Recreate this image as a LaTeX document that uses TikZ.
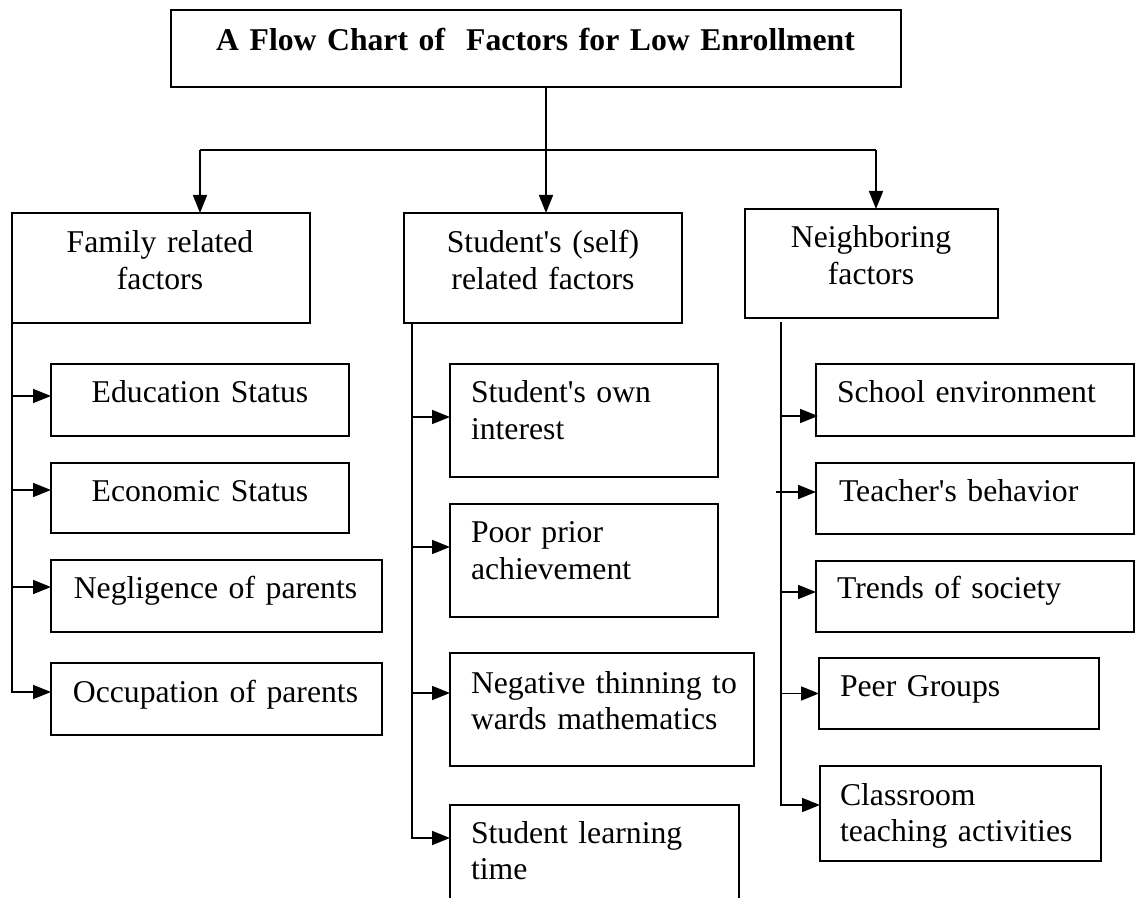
\documentclass[tikz,border=0pt]{standalone}
\usepackage{fontspec}
\setmainfont{Liberation Serif}[Ligatures=TeXOff]
\usetikzlibrary{arrows.meta}
\tikzset{
  box/.style={draw, line width=0.8pt, inner sep=0pt, outer sep=0pt},
  conn/.style={line width=0.8pt},
  arr/.style={conn, -{Triangle[length=9pt,width=7pt]}},
  basefont/.style={font=\fontsize{15.85pt}{18.2pt}\selectfont},
  ltxt/.style={basefont, inner sep=0pt, outer sep=0pt, anchor=base west, text width=8cm, align=left},
  ctxt/.style={basefont, inner sep=0pt, outer sep=0pt, anchor=base, text width=14cm, align=center},
}
\newcommand\bx[5]{\node[box, anchor=north west, minimum width={(#4-#2)*0.5pt}, minimum height={(#5-#3)*0.5pt}] (#1) at (#2,#3) {};}
\begin{document}
\begin{tikzpicture}[x=0.5pt, y=-0.5pt]
\useasboundingbox (0,0) rectangle (1136,898);
% boxes
\bx{title}{171}{10}{901}{87}
\bx{fam}{12}{213}{310}{323}
\bx{stu}{404}{213}{682}{323}
\bx{nei}{745}{209}{998}{318}
\bx{f1}{51}{364}{349}{436}
\bx{f2}{51}{463}{349}{533}
\bx{f3}{51}{560}{382}{632}
\bx{f4}{51}{663}{382}{735}
\bx{s1}{450}{364}{718}{477}
\bx{s2}{450}{504}{718}{617}
\bx{s3}{450}{653}{754}{766}
\bx{s4}{450}{805}{739}{912}
\bx{n1}{816}{364}{1134}{436}
\bx{n2}{816}{463}{1134}{534}
\bx{n3}{816}{561}{1134}{632}
\bx{n4}{819}{658}{1099}{729}
\bx{n5}{820}{766}{1101}{861}
% texts
\node[ctxt, font=\fontsize{15.85pt}{18.2pt}\selectfont\bfseries] (tt) at (535.5,51) {A Flow Chart of\ \ Factors for Low Enrollment};
\node[ctxt] (tfam) at (160,253) {Family related\\factors};
\node[ctxt] (tstu) at (543,253) {Student's (self)\\related factors};
\node[ctxt] (tnei) at (871,248) {Neighboring\\factors};
\node[ctxt] (tf1) at (200,403) {Education Status};
\node[ctxt] (tf2) at (200,502) {Economic Status};
\node[ctxt] (tf3) at (215.5,599) {Negligence of parents};
\node[ctxt] (tf4) at (215.5,703) {Occupation of parents};
\node[ltxt] (ts1) at (471,403) {Student's own\\interest};
\node[ltxt] (ts2) at (471,543) {Poor prior\\achievement};
\node[ltxt] (ts3) at (471,693) {Negative thinning to\\wards mathematics};
\node[ltxt] (ts4) at (471,843) {Student learning\\time};
\node[ltxt] (tn1) at (837,403) {School environment};
\node[ltxt] (tn2) at (839,502) {Teacher's behavior};
\node[ltxt] (tn3) at (837,599) {Trends of society};
\node[ltxt] (tn4) at (840,697) {Peer Groups};
\node[ltxt] (tn5) at (840,805) {Classroom\\teaching activities};
% top connectors
\coordinate (hub) at (546,150);
\coordinate (hl) at (200,150);
\coordinate (hr) at (876,150);
\draw[conn] (title.south -| hub) -- (hub);
\draw[conn] (hl) -- (hr);
\draw[arr] (hl) -- (hl |- fam.north);
\draw[arr] (hub) -- (hub |- stu.north);
\draw[arr] (hr) -- (hr |- nei.north);
% family column
\coordinate (fa1) at ([yshift=2pt]f1.west);
\coordinate (fa2) at ([yshift=4pt]f2.west);
\coordinate (fa3) at ([yshift=4.5pt]f3.west);
\coordinate (fa4) at ([yshift=3.5pt]f4.west);
\draw[arr] (fam.south west) |- (fa4);
\draw[arr] (fa1 -| fam.south west) -- (fa1);
\draw[arr] (fa2 -| fam.south west) -- (fa2);
\draw[arr] (fa3 -| fam.south west) -- (fa3);
% student column
\coordinate (st) at ([xshift=4pt]stu.south west);
\coordinate (sa1) at ([yshift=1.75pt]s1.west);
\coordinate (sa2) at ([yshift=6.75pt]s2.west);
\coordinate (sa3) at ([yshift=8.25pt]s3.west);
\coordinate (sa4) at ([yshift=-16.5pt]s4.north west);
\draw[arr] (st) |- (sa4);
\draw[arr] (sa1 -| st) -- (sa1);
\draw[arr] (sa2 -| st) -- (sa2);
\draw[arr] (sa3 -| st) -- (sa3);
% neighbour column
\coordinate (nt) at ([xshift=18pt,yshift=-2pt]nei.south west);
\coordinate (nt2) at ([xshift=-2.5pt]nt);
\coordinate (na1) at ([yshift=-8pt,xshift=1pt]n1.west);
\coordinate (na2) at ([yshift=3.25pt]n2.west);
\coordinate (na3) at ([yshift=2.25pt]n3.west);
\coordinate (na4) at (n4.west);
\coordinate (na5) at ([yshift=4.25pt]n5.west);
\draw[arr] (nt) |- (na5);
\draw[arr] (na1 -| nt) -- (na1);
\draw[arr] (na2 -| nt2) -- (na2);
\draw[arr] (na3 -| nt) -- (na3);
\draw[arr] (na4 -| nt) -- (na4);
\end{tikzpicture}
\end{document}
